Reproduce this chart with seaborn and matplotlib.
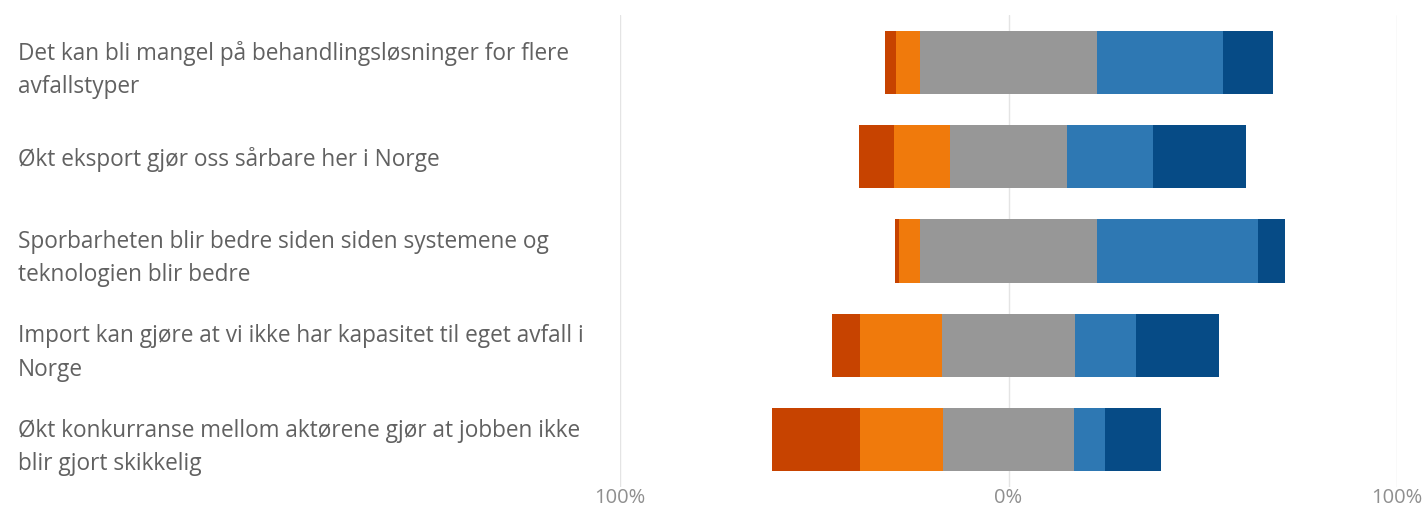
import matplotlib
matplotlib.use("Agg")
import matplotlib.pyplot as plt
import seaborn as sns
import pandas as pd

# statements (top to bottom)
statements = [
    "Det kan bli mangel på behandlingsløsninger for flere\navfallstyper",
    "Økt eksport gjør oss sårbare her i Norge",
    "Sporbarheten blir bedre siden siden systemene og\nteknologien blir bedre",
    "Import kan gjøre at vi ikke har kapasitet til eget avfall i\nNorge",
    "Økt konkurranse mellom aktørene gjør at jobben ikke\nblir gjort skikkelig",
]

# shares in percent
strongly_disagree = [2.8, 9.1, 1.0, 7.3, 22.7]
disagree = [6.2, 14.3, 5.3, 21.0, 21.4]
neutral = [45.6, 30.3, 45.8, 34.3, 33.5]
agree = [32.4, 22.1, 41.3, 15.7, 8.2]
strongly_agree = [12.9, 23.8, 6.9, 21.4, 14.2]

tick_values = [-100, 0, 100]
tick_labels = ["100%", "0%", "100%"]

colors = {
    "strongly_disagree": "#c74300",
    "disagree": "#f07a0c",
    "neutral": "#979797",
    "agree": "#2e78b3",
    "strongly_agree": "#064b86",
}

df = pd.DataFrame({
    "statement": statements,
    "sd": strongly_disagree,
    "d": disagree,
    "n": neutral,
    "a": agree,
    "sa": strongly_agree,
})

# cumulative ends, neutral split around zero
half = df["n"] / 2
df["right_sa"] = half + df["a"] + df["sa"]
df["right_a"] = half + df["a"]
df["right_n"] = half
df["left_sd"] = -(half + df["d"] + df["sd"])
df["left_d"] = -(half + df["d"])
df["left_n"] = -half

sns.set_style("white")
plt.rcParams["font.family"] = ["Open Sans", "DejaVu Sans"]

fig = plt.figure(figsize=(14.26, 5.08), dpi=100)
ax = fig.add_axes([620 / 1426, 1 - 487 / 508, 777 / 1426, 472 / 508])

layers = [
    ("right_sa", colors["strongly_agree"]),
    ("right_a", colors["agree"]),
    ("right_n", colors["neutral"]),
    ("left_sd", colors["strongly_disagree"]),
    ("left_d", colors["disagree"]),
    ("left_n", colors["neutral"]),
]
for col, c in layers:
    sns.barplot(data=df, x=col, y="statement", orient="h", color=c,
                width=0.67, linewidth=0, saturation=1, ax=ax, zorder=3)

ax.set_xlim(-100, 100)
ax.set_ylim(4.5, -0.5)
ax.set_xticks(tick_values)
ax.set_xticklabels(tick_labels, fontsize=14.5, color="#8f8f8f")
ax.tick_params(axis="x", length=0, pad=1)
for v in tick_values:
    ax.axvline(v, color="#e4e4e4", lw=1, zorder=1)

ax.set_yticks(range(len(statements)))
ax.set_yticklabels(statements, fontsize=16.3, color="#616161",
                   ha="left", linespacing=1.52)
ax.tick_params(axis="y", length=0, pad=602 * 72 / 100)

ax.set_xlabel("")
ax.set_ylabel("")
for s in ax.spines.values():
    s.set_visible(False)

fig.savefig("out.png", dpi=100, facecolor="white")
